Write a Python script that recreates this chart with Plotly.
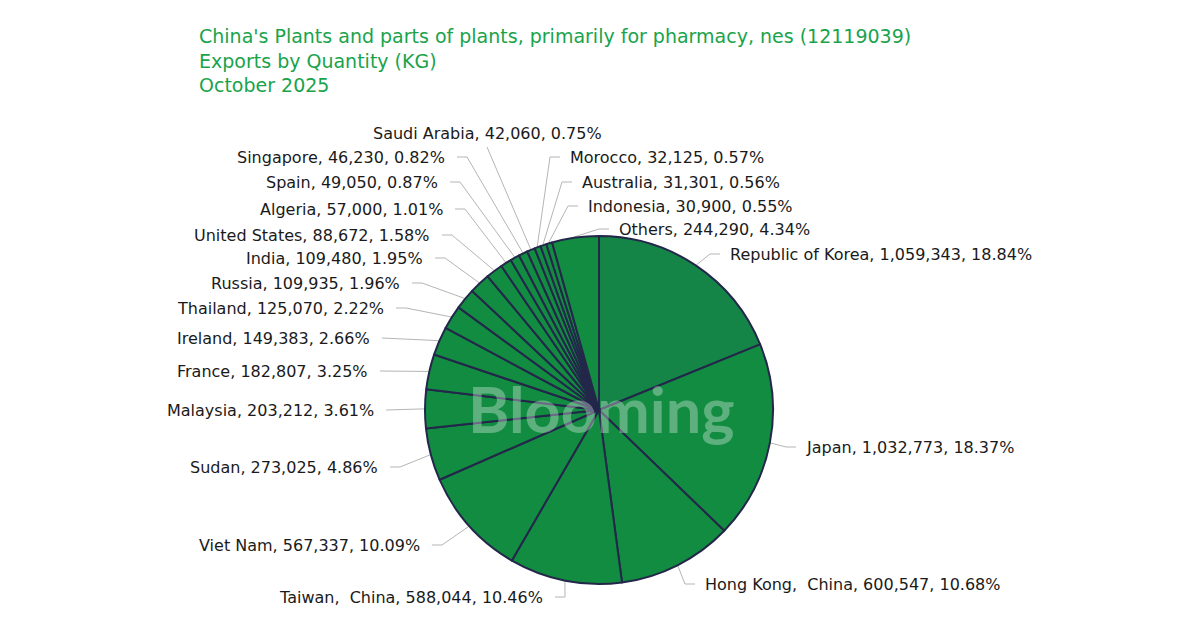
import plotly.graph_objects as go
import math

# ---------------- data ----------------
countries = ["Republic of Korea", "Japan", "Hong Kong,  China", "Taiwan,  China", "Viet Nam",
             "Sudan", "Malaysia", "France", "Ireland", "Thailand", "Russia", "India",
             "United States", "Algeria", "Spain", "Singapore", "Saudi Arabia", "Morocco",
             "Australia", "Indonesia", "Others"]
values = [1059343, 1032773, 600547, 588044, 567337, 273025, 203212, 182807, 149383, 125070,
          109935, 109480, 88672, 57000, 49050, 46230, 42060, 32125, 31301, 30900, 244290]
percents = ["18.84%", "18.37%", "10.68%", "10.46%", "10.09%", "4.86%", "3.61%", "3.25%",
            "2.66%", "2.22%", "1.96%", "1.95%", "1.58%", "1.01%", "0.87%", "0.82%", "0.75%",
            "0.57%", "0.56%", "0.55%", "4.34%"]
title_lines = ["China's Plants and parts of plants, primarily for pharmacy, nes (12119039)",
               "Exports by Quantity (KG)",
               "October 2025"]

# ---------------- layout of labels (pixels) ----------------
label_x = [728, 804, 703, 545, 422, 380, 376, 370, 372, 386, 402, 425, 432, 445, 440, 447, 487,
           568, 580, 586, 617]
label_y = [254, 447, 584, 597, 545, 467, 410, 371, 338, 308, 283, 258, 235, 209, 182, 157, 133,
           157, 182, 206, 229]
label_side = ["r", "r", "r", "l", "l", "l", "l", "l", "l", "l", "l", "l", "l", "l", "l", "l", "c",
              "r", "r", "r", "r"]

W, H = 1200, 636
CX, CY, R = 599, 410, 174

fig = go.Figure()

slice_colors = ["#148547"] + ["#128c41"] * (len(values) - 1)
fig.add_trace(go.Pie(
    labels=countries, values=values, sort=False, direction="clockwise", rotation=0,
    textinfo="none", hoverinfo="label+value+percent",
    marker=dict(colors=slice_colors, line=dict(color="#23274a", width=2)),
    domain=dict(x=[(CX - R) / W, (CX + R) / W], y=[(H - CY - R) / H, (H - CY + R) / H]),
    showlegend=False,
))

total = sum(values)
cum = 0
annotations = []
for i, v in enumerate(values):
    mid = 2 * math.pi * (cum + v / 2) / total
    cum += v
    ax = CX + (R + 1) * math.sin(mid)
    ay = CY - (R + 1) * math.cos(mid)
    lx, ly, side = label_x[i], label_y[i], label_side[i]
    if side == "r":
        pts_x = [ax, lx - 18, lx - 8]
        pts_y = [ay, ly, ly]
        xanchor = "left"
    elif side == "l":
        pts_x = [ax, lx + 20, lx + 10]
        pts_y = [ay, ly, ly]
        xanchor = "right"
    else:
        pts_x = [ax, lx]
        pts_y = [ay, ly + 14]
        xanchor = "center"
    fig.add_trace(go.Scatter(x=pts_x, y=pts_y, mode="lines",
                             line=dict(color="#b5b5b5", width=1),
                             hoverinfo="skip", showlegend=False))
    text = f"{countries[i]}, {v:,}, {percents[i]}"
    annotations.append(dict(x=lx, y=ly, xref="x", yref="y", text=text, showarrow=False,
                            xanchor=xanchor, yanchor="middle",
                            font=dict(family="DejaVu Sans", size=16, color="#1a1a1a")))

annotations.append(dict(x=197, y=23, xref="x", yref="y", text="<br>".join(title_lines),
                        showarrow=False, xanchor="left", yanchor="top", align="left",
                        font=dict(family="DejaVu Sans", size=19, color="#19a34b")))

annotations.append(dict(x=601, y=408, xref="x", yref="y", text="<b>Blooming</b>", showarrow=False,
                        xanchor="center", yanchor="middle",
                        font=dict(family="Lato", size=63, color="rgba(255,255,255,0.32)")))

fig.update_layout(
    width=W, height=H, margin=dict(l=0, r=0, t=0, b=0),
    paper_bgcolor="white", plot_bgcolor="rgba(0,0,0,0)",
    xaxis=dict(range=[0, W], visible=False, domain=[0, 1], fixedrange=True),
    yaxis=dict(range=[H, 0], visible=False, domain=[0, 1], fixedrange=True),
    annotations=annotations,
)

fig.write_html("out.html")
